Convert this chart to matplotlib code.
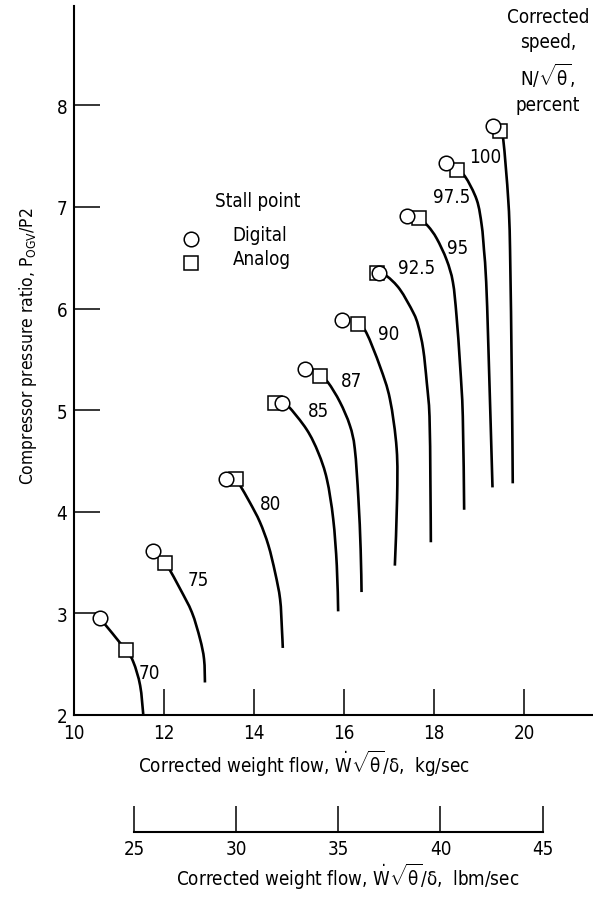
import matplotlib
matplotlib.use("Agg")
import matplotlib.pyplot as plt
from matplotlib.path import Path
from matplotlib.patches import PathPatch
import numpy as np

plt.rcParams['font.family'] = ['DejaVu Sans']
plt.rcParams['font.stretch'] = 'condensed'
plt.rcParams['mathtext.fontset'] = 'custom'
plt.rcParams['mathtext.rm'] = 'DejaVu Sans'
plt.rcParams['mathtext.it'] = 'DejaVu Sans'
plt.rcParams['mathtext.bf'] = 'DejaVu Sans:bold'

# Corrected speed lines (percent)
speeds = ["70", "75", "80", "85", "87", "90", "92.5", "95", "97.5", "100"]

curve_x = [
    [10.58, 11.15, 11.32, 11.47, 11.54],
    [12.02, 12.10, 12.36, 12.62, 12.80, 12.89, 12.91],
    [13.60, 13.69, 13.91, 14.13, 14.32, 14.47, 14.58, 14.62, 14.64],
    [14.62, 14.76, 15.17, 15.43, 15.62, 15.76, 15.84, 15.87],
    [15.47, 15.65, 15.91, 16.13, 16.24, 16.32, 16.37, 16.39],
    [16.32, 16.50, 16.80, 17.02, 17.17, 17.18, 17.13],
    [16.76, 16.95, 17.24, 17.54, 17.65, 17.76, 17.84, 17.90, 17.92, 17.93],
    [17.67, 17.87, 18.06, 18.28, 18.42, 18.50, 18.58, 18.64, 18.67],
    [18.50, 18.69, 18.95, 19.06, 19.11, 19.16, 19.21, 19.30],
    [19.47, 19.54, 19.65, 19.69, 19.73, 19.75],
]
curve_y = [
    [2.95, 2.64, 2.52, 2.29, 2.00],
    [3.50, 3.45, 3.24, 3.01, 2.75, 2.55, 2.32],
    [4.32, 4.26, 4.09, 3.90, 3.67, 3.40, 3.14, 2.85, 2.66],
    [5.07, 5.04, 4.81, 4.58, 4.32, 3.93, 3.47, 3.02],
    [5.34, 5.27, 5.08, 4.85, 4.62, 4.13, 3.63, 3.21],
    [5.85, 5.76, 5.43, 5.11, 4.62, 4.13, 3.47],
    [6.35, 6.32, 6.19, 5.96, 5.83, 5.60, 5.27, 4.94, 4.30, 3.70],
    [6.89, 6.81, 6.69, 6.48, 6.26, 5.93, 5.44, 4.94, 4.02],
    [7.36, 7.30, 7.07, 6.82, 6.58, 6.26, 5.60, 4.24],
    [7.75, 7.66, 7.07, 6.58, 5.27, 4.28],
]

# stall points
digital_x = [10.58, 11.76, 13.37, 14.62, 15.13, 15.95, 16.78, 17.41, 18.26, 19.30]
digital_y = [2.95, 3.61, 4.32, 5.07, 5.41, 5.89, 6.35, 6.91, 7.43, 7.80]
analog_x = [11.15, 12.02, 13.60, 14.47, 15.47, 16.32, 16.74, 17.67, 18.50, 19.47]
analog_y = [2.64, 3.50, 4.32, 5.07, 5.34, 5.85, 6.35, 6.89, 7.36, 7.75]

# speed label positions
label_x = [11.67, 12.76, 14.37, 15.43, 16.17, 17.00, 17.61, 18.53, 18.39, 19.13]
label_y = [2.42, 3.33, 4.08, 5.00, 5.29, 5.75, 6.40, 6.60, 7.10, 7.50]

kg_ticks = [10, 12, 14, 16, 18, 20]
pr_ticks = [2, 3, 4, 5, 6, 7, 8]
lbm_ticks = [25, 30, 35, 40, 45]
KG_TO_LBM = 2.20462


def smooth_path(xs, ys):
    # bezier path through the read points (Catmull-Rom style handles)
    p = np.column_stack([xs, ys])
    ext = np.vstack([p[0], p, p[-1]])
    verts = [p[0]]
    codes = [Path.MOVETO]
    for i in range(len(p) - 1):
        p0, p1, p2, p3 = ext[i], ext[i + 1], ext[i + 2], ext[i + 3]
        verts += [p1 + (p2 - p0) / 6, p2 - (p3 - p1) / 6, p2]
        codes += [Path.CURVE4] * 3
    return Path(verts, codes)


fs = 13.5
fig = plt.figure(figsize=(5.93, 9.03), dpi=100)
ax = fig.add_axes([74 / 593, 187 / 903, 517.5 / 593, 709 / 903])

for xs, ys in zip(curve_x, curve_y):
    ax.add_patch(PathPatch(smooth_path(xs, ys), fill=False, edgecolor='black',
                           lw=1.9, capstyle='butt', zorder=2))

ax.plot(analog_x, analog_y, 's', ms=9.5, mfc='white', mec='black',
        mew=1.1, zorder=3, ls='none')
ax.plot(digital_x, digital_y, 'o', ms=10.5, mfc='white', mec='black',
        mew=1.1, zorder=4, ls='none')

for s, lx, ly in zip(speeds, label_x, label_y):
    ax.text(lx, ly, s, fontsize=fs, ha='center', va='center')

# legend drawn by hand
ax.text(13.13, 7.06, "Stall point", fontsize=fs, ha='left', va='center')
ax.plot([12.6], [6.68], 'o', ms=10.5, mfc='white', mec='black', mew=1.1)
ax.plot([12.6], [6.45], 's', ms=9.5, mfc='white', mec='black', mew=1.1)
ax.text(13.51, 6.73, "Digital", fontsize=fs, ha='left', va='center')
ax.text(13.53, 6.49, "Analog", fontsize=fs, ha='left', va='center')

ax.set_xlim(10, 21.5)
ax.set_ylim(2, 8.978)
ax.set_xticks(kg_ticks)
ax.set_yticks(pr_ticks)
ax.spines['top'].set_visible(False)
ax.spines['right'].set_visible(False)
for sp in ['left', 'bottom']:
    ax.spines[sp].set_linewidth(1.5)
ax.tick_params(direction='in', length=18.5, width=1.1, labelsize=fs)
ax.tick_params(axis='x', pad=6)
ax.tick_params(axis='y', pad=5)
ax.patch.set_visible(False)

# second scale in lbm/sec
ax2 = fig.add_axes([74 / 593, 70 / 903, 517.5 / 593, 0.02])
ax2.set_xlim(10 * KG_TO_LBM, 21.5 * KG_TO_LBM)
for sp in ['left', 'right', 'top']:
    ax2.spines[sp].set_visible(False)
ax2.spines['bottom'].set_bounds(lbm_ticks[0], lbm_ticks[-1])
ax2.spines['bottom'].set_linewidth(1.5)
ax2.set_xticks(lbm_ticks)
ax2.set_yticks([])
ax2.tick_params(direction='in', length=18.5, width=1.1, labelsize=fs, pad=5)
ax2.patch.set_visible(False)

fig.text(304 / 593, 1 - 773 / 903,
         r"Corrected weight flow, $\dot{W}\sqrt{\theta}/\delta$,  kg/sec",
         fontsize=fs, ha='center', va='baseline')
fig.text(348 / 593, 1 - 886 / 903,
         r"Corrected weight flow, $\dot{W}\sqrt{\theta}/\delta$,  lbm/sec",
         fontsize=fs, ha='center', va='baseline')
fig.text(33 / 593, 1 - 346 / 903,
         r"Compressor pressure ratio, $P_{\mathrm{OGV}}$/P2",
         fontsize=12.5, ha='center', va='baseline', rotation=90,
         rotation_mode='anchor')
fig.text(548 / 593, 1 - 8 / 903,
         "Corrected\nspeed,\n" + r"$N/\sqrt{\theta}$," + "\npercent",
         fontsize=fs, ha='center', va='top', linespacing=1.4)

fig.savefig("out.png", dpi=100)
